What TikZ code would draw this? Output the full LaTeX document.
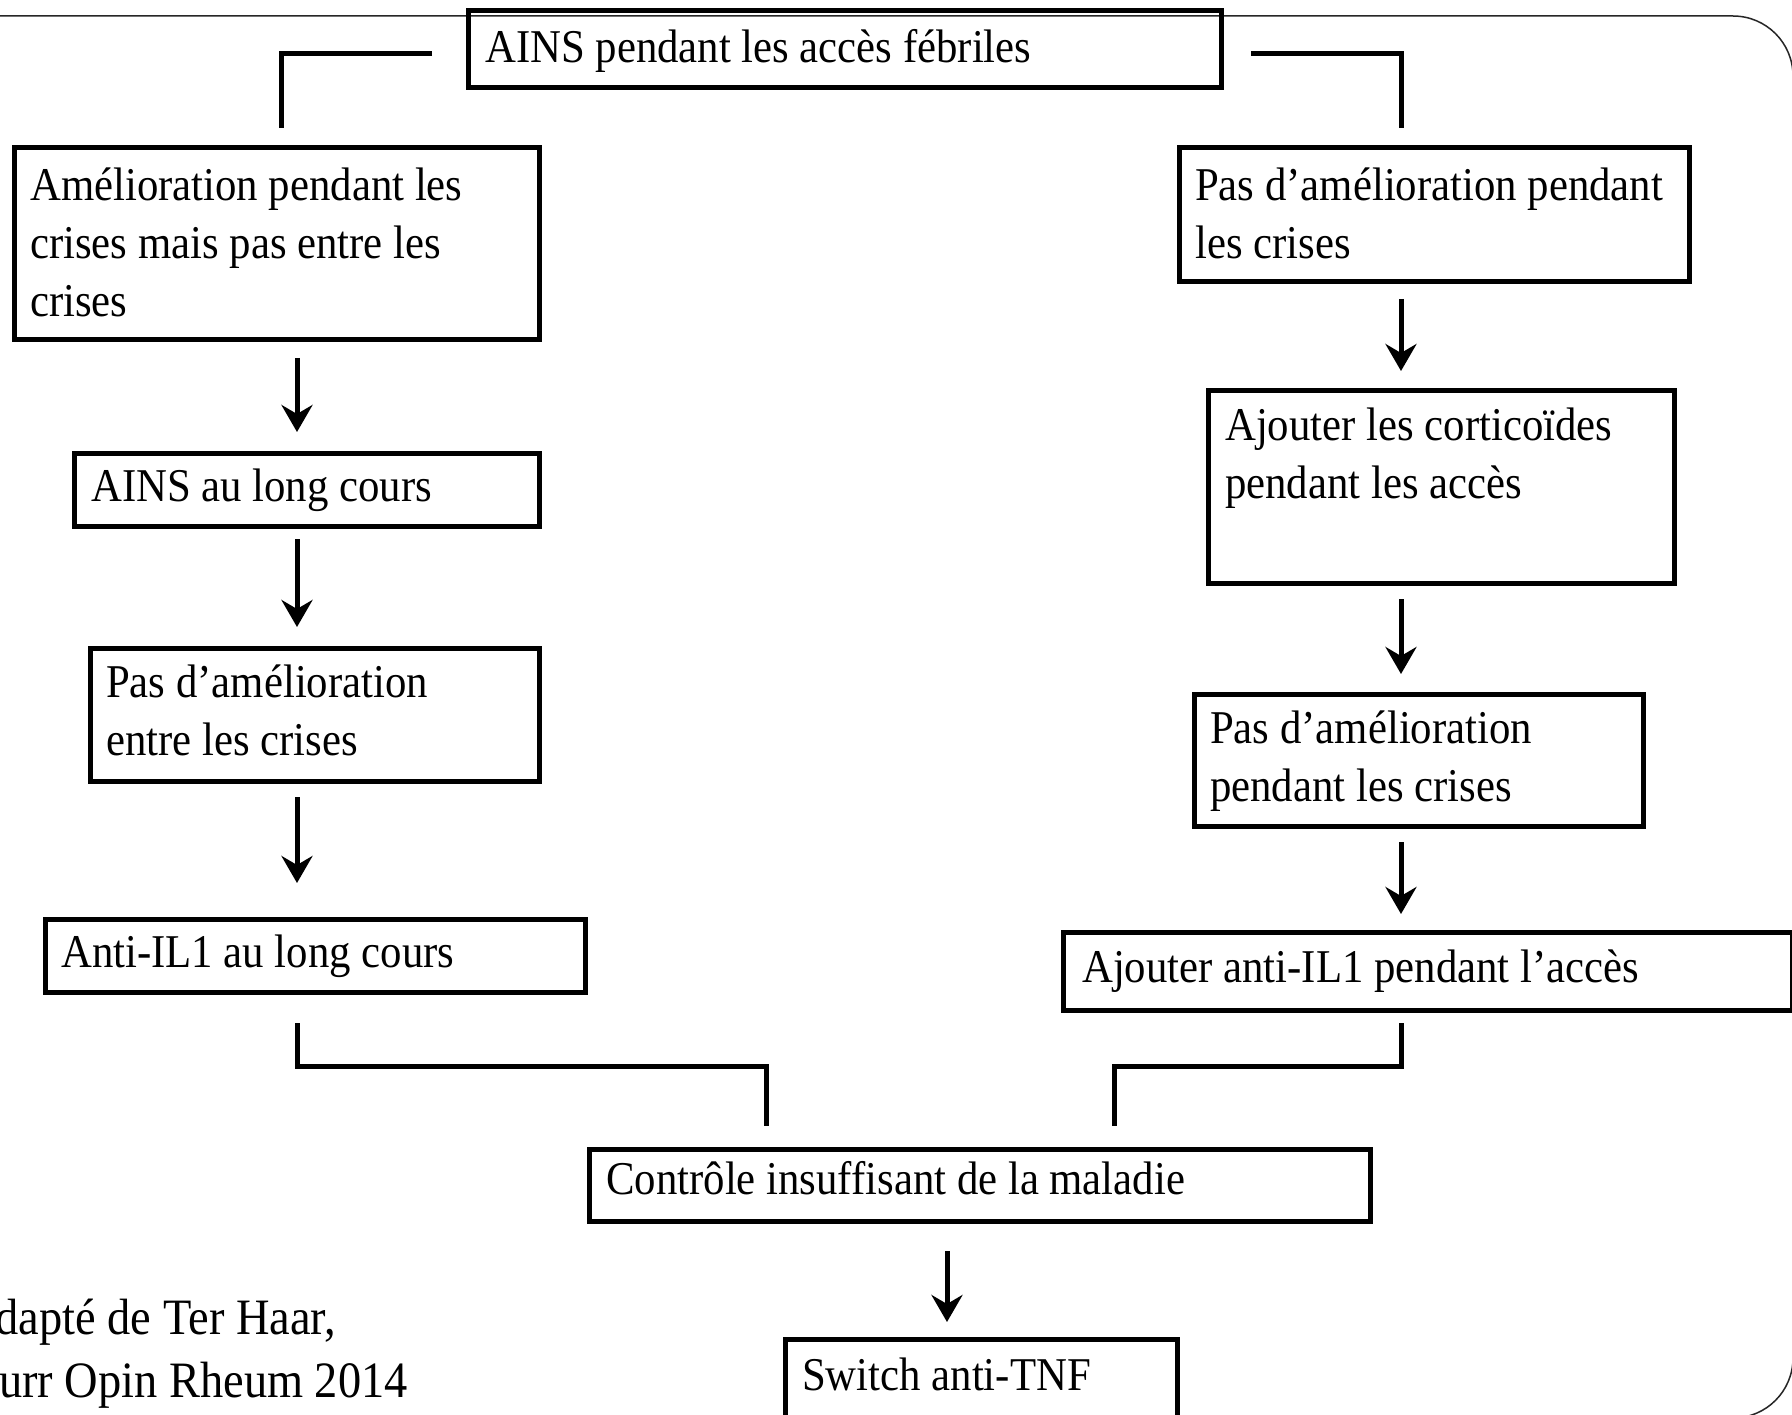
\documentclass[tikz,border=0pt]{standalone}
\usepackage{fontspec}
\setmainfont[FakeStretch=0.91]{Liberation Serif}
\usetikzlibrary{arrows.meta}
\begin{document}
\begin{tikzpicture}[x=1pt,y=-1pt,
  box/.style={draw=black, line width=5pt, rectangle, inner sep=0pt, anchor=north west},
  txt/.style={anchor=north west, inner sep=0pt, align=left,
    font=\fontsize{47}{58}\selectfont, execute at begin node=\strut},
  reftxt/.style={anchor=base west, inner sep=0pt, font=\fontsize{51}{63}\selectfont},
  conn/.style={line width=5pt, line join=miter},
  arr/.style={line width=5pt, -{Stealth[length=27pt,width=31pt,inset=9pt]}}]
\useasboundingbox (0,0) rectangle (1792,1415);
\fill[white] (0,0) rectangle (1792,1415);
\clip (0,0) rectangle (1792,1415);
% frame
\draw[black!85, line width=1.5pt, rounded corners=60pt] (-120,16) rectangle (1793,1418);
% boxes
\node[box, minimum width=753, minimum height=77] (top) at (465.5,8.5) {};
\node[box, minimum width=525, minimum height=192] (L1) at (11.5,145.5) {};
\node[box, minimum width=465, minimum height=73] (L2) at (71.5,450.5) {};
\node[box, minimum width=449, minimum height=133] (L3) at (87.5,645.5) {};
\node[box, minimum width=540, minimum height=73] (L4) at (42.5,916.5) {};
\node[box, minimum width=510, minimum height=134] (R1) at (1176.5,145.5) {};
\node[box, minimum width=466, minimum height=192] (R2) at (1205.5,388.5) {};
\node[box, minimum width=449, minimum height=132] (R3) at (1191.5,691.5) {};
\node[box, minimum width=729, minimum height=78] (R4) at (1060.5,929.5) {};
\node[box, minimum width=781, minimum height=72] (B1) at (586.5,1146.5) {};
\node[box, minimum width=392, minimum height=95] (B2) at (782.5,1336.5) {};
% texts (north = first baseline - 40.6)
\node[txt] (ttop) at (485,21.4) {AINS pendant les accès fébriles};
\node[txt] (tL1) at (30,167.4) {Amélioration pendant les\\crises mais pas entre les\\crises};
\node[txt] (tL2) at (91,460.4) {AINS au long cours};
\node[txt] (tL3) at (106,664.4) {Pas d’amélioration\\entre les crises};
\node[txt] (tL4) at (61,926.4) {Anti-IL1 au long cours};
\node[txt] (tR1) at (1195,167.4) {Pas d’amélioration pendant\\les crises};
\node[txt] (tR2) at (1225,407.4) {Ajouter les corticoïdes\\pendant les accès};
\node[txt] (tR3) at (1210,710.4) {Pas d’amélioration\\pendant les crises};
\node[txt] (tR4) at (1082,942) {Ajouter anti-IL1 pendant l’accès};
\node[txt] (tB1) at (606,1153.4) {Contrôle insuffisant de la maladie};
\node[txt] (tB2) at (802,1349.4) {Switch anti-TNF};
\node[reftxt] (ref1) at (-38,1334) {Adapté de Ter Haar,};
\node[reftxt] (ref2) at (-32,1397) {Curr Opin Rheum 2014};
% connector end points
\coordinate (c1a) at (432,54);   \coordinate (c1b) at (281,54);   \coordinate (c1c) at (281,128);
\coordinate (c2a) at (1251,54);  \coordinate (c2b) at (1401,54);  \coordinate (c2c) at (1401,128);
\coordinate (c3a) at (297,1023); \coordinate (c3b) at (297,1066); \coordinate (c3c) at (766,1066); \coordinate (c3d) at (766,1126);
\coordinate (c4a) at (1401,1023);\coordinate (c4b) at (1401,1066);\coordinate (c4c) at (1114,1066);\coordinate (c4d) at (1114,1126);
\draw[conn] (c1a) -- (c1b) -- (c1c);
\draw[conn] (c2a) -- (c2b) -- (c2c);
\draw[conn] (c3a) -- (c3b) -- (c3c) -- (c3d);
\draw[conn] (c4a) -- (c4b) -- (c4c) -- (c4d);
% arrows
\coordinate (a1s) at (297,358);  \coordinate (a1e) at (297,432);
\coordinate (a2s) at (297,539);  \coordinate (a2e) at (297,627);
\coordinate (a3s) at (297,797);  \coordinate (a3e) at (297,883);
\coordinate (a4s) at (1401,299); \coordinate (a4e) at (1401,371);
\coordinate (a5s) at (1401,599); \coordinate (a5e) at (1401,674);
\coordinate (a6s) at (1401,842); \coordinate (a6e) at (1401,914);
\coordinate (a7s) at (947,1251); \coordinate (a7e) at (947,1322);
\foreach \i in {1,...,7} { \draw[arr] (a\i s) -- (a\i e); }
\end{tikzpicture}
\end{document}
